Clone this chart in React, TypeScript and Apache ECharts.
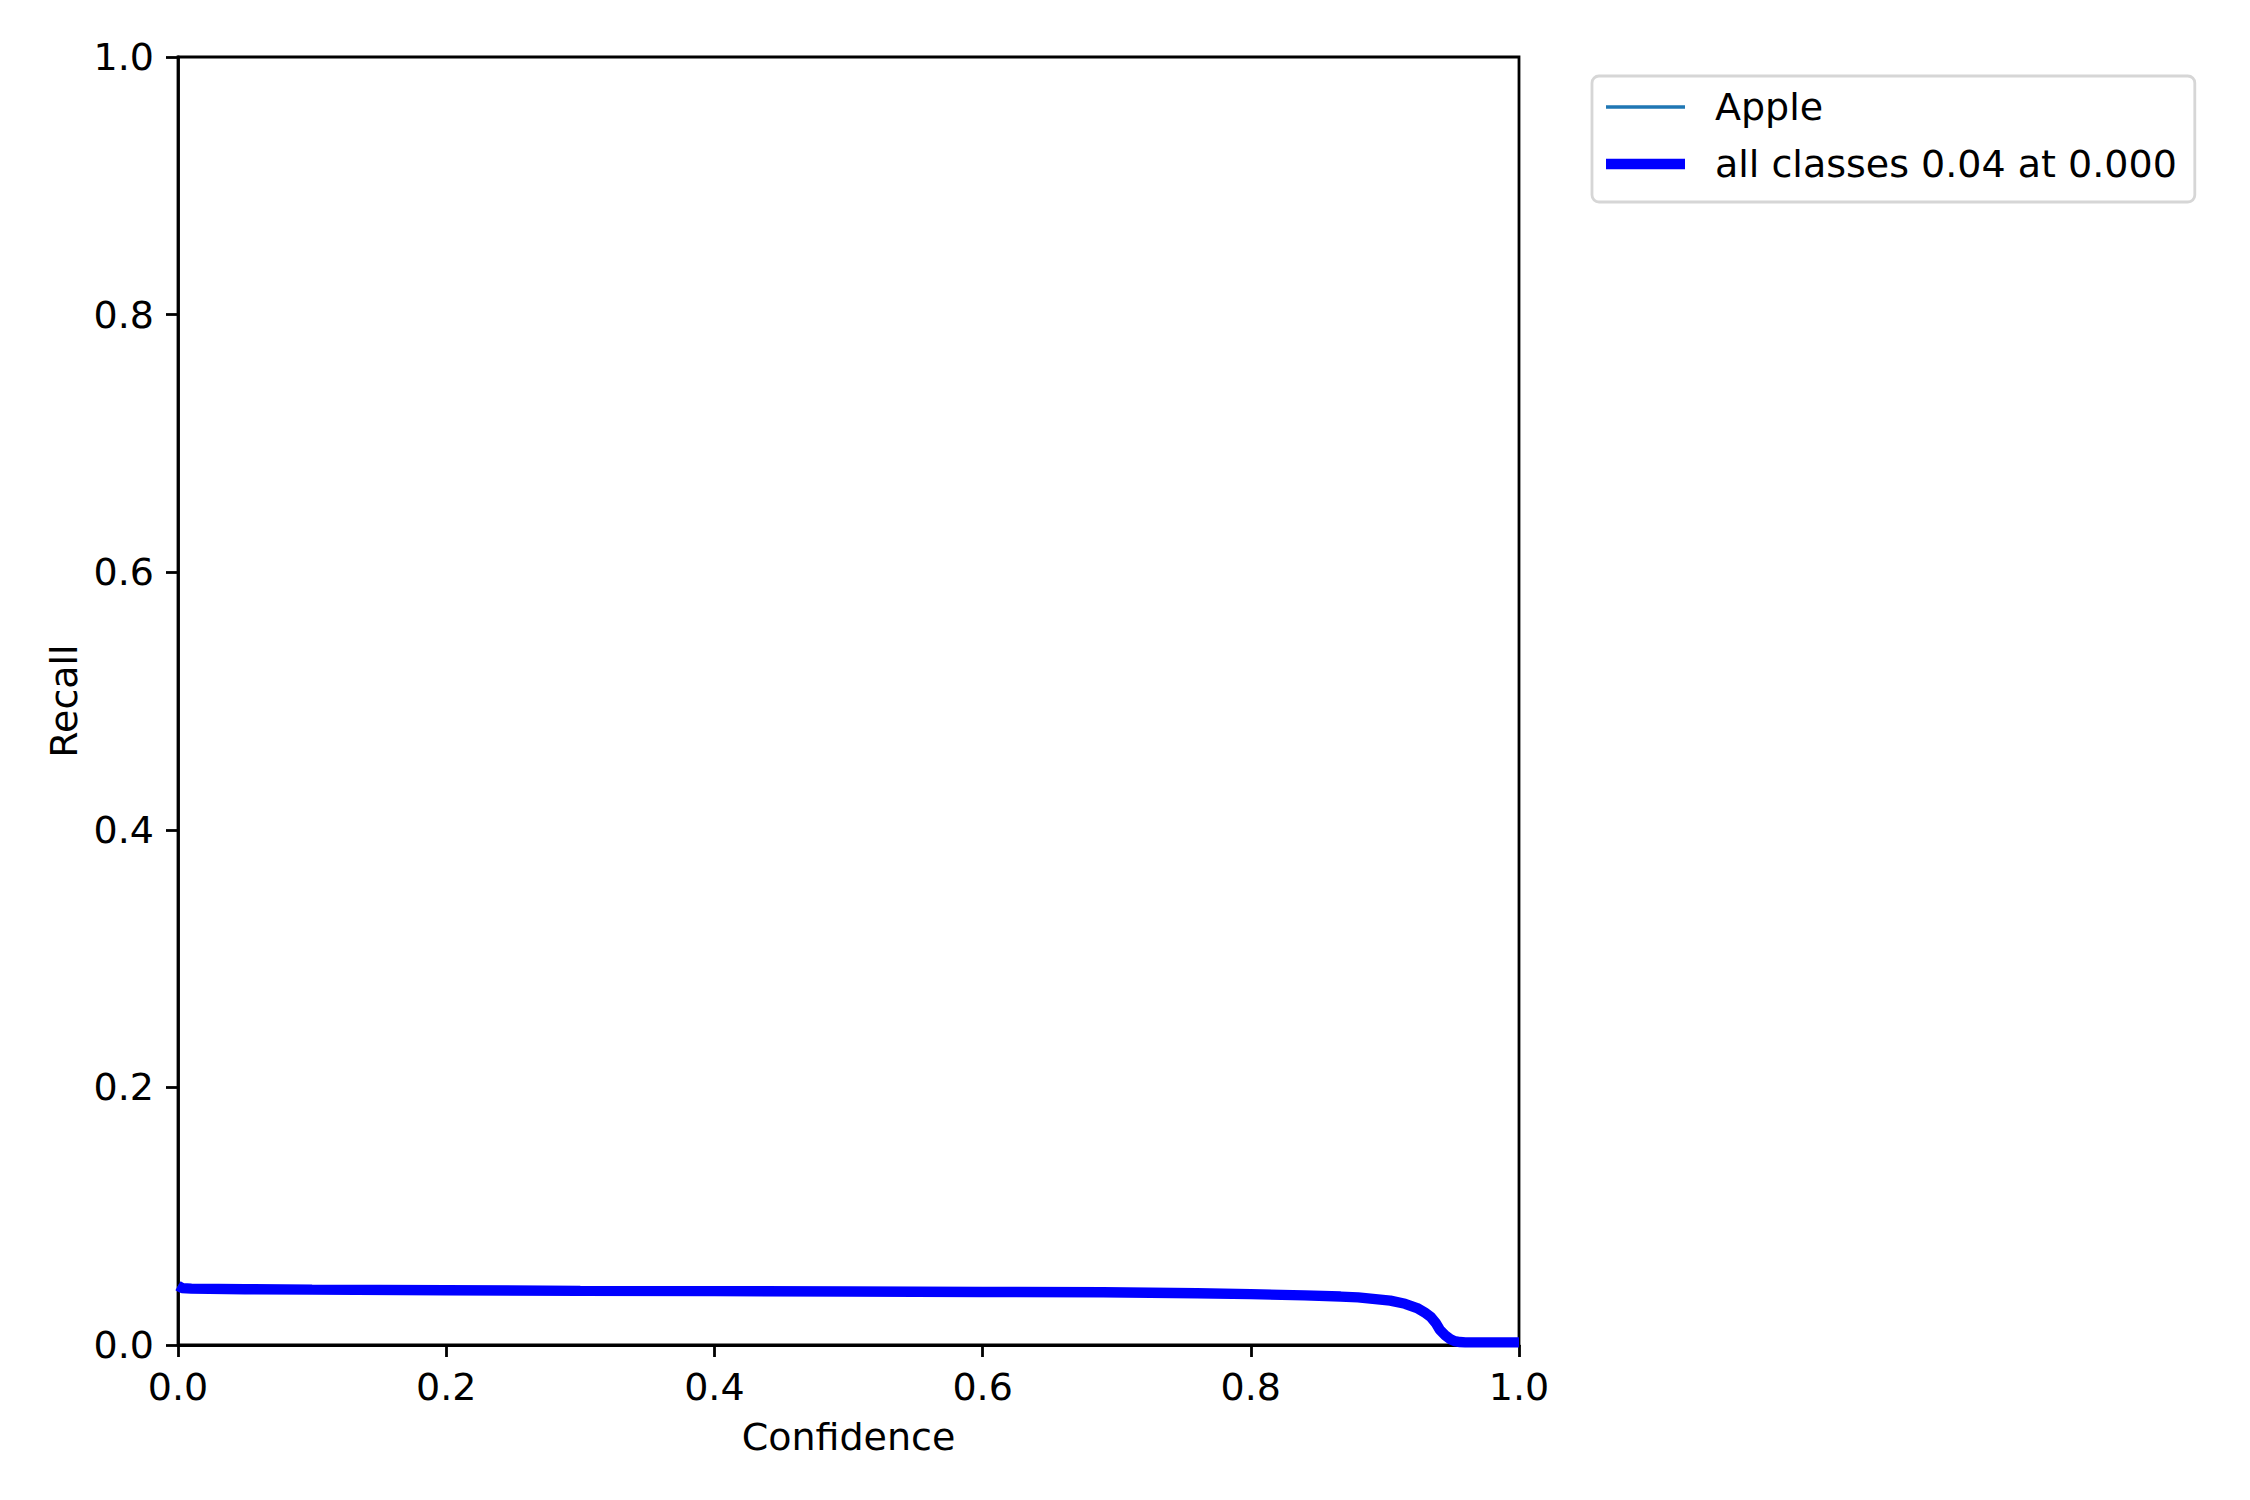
import React, { useEffect, useRef } from "react";
import * as echarts from "echarts";

const confidence = [0, 0.003, 0.01, 0.05, 0.1, 0.2, 0.3, 0.4, 0.5, 0.6, 0.69, 0.76, 0.8, 0.84, 0.867, 0.88, 0.904, 0.915, 0.924, 0.93, 0.934, 0.938, 0.941, 0.945, 0.9485, 0.952, 0.956, 0.96, 1.0];
const appleRecall = [0.046, 0.0442, 0.0438, 0.0433, 0.043, 0.0425, 0.042, 0.0418, 0.0415, 0.0412, 0.0409, 0.0402, 0.0395, 0.0385, 0.0376, 0.037, 0.0344, 0.032, 0.0287, 0.025, 0.022, 0.017, 0.0117, 0.0075, 0.0047, 0.003, 0.0023, 0.002, 0.002];
const allRecall = appleRecall.slice();
const seriesNames = ["Apple", "all classes 0.04 at 0.000"];
const tickValues = [0, 0.2, 0.4, 0.6, 0.8, 1.0];

const FONT = "DejaVu Sans";
const FS = 38;

// legend handle: a line segment inside a 104x20 box (corner specks fix the box size)
const handle = (w: number) => {
  const y0 = (10 - w / 2).toFixed(2);
  return `path://M0,0h0.01v0.01h-0.01zM0,${y0}h79v${w}h-79zM103.99,19.99h0.01v0.01h-0.01z`;
};

export default function App() {
  const ref = useRef<HTMLDivElement>(null);
  useEffect(() => {
    if (!ref.current) return;
    const chart = echarts.init(ref.current, undefined, { renderer: "svg" });
    const pairs = (ys: number[]) => confidence.map((x, i) => [x, ys[i]]);
    const axisCommon = {
      type: "value" as const,
      min: 0,
      max: 1,
      interval: 0.2,
      splitLine: { show: false },
      axisLine: { show: true, lineStyle: { color: "#000", width: 2.8 } },
      axisTick: { show: true, inside: false, length: 12, lineStyle: { color: "#000", width: 2.8 } },
      nameTextStyle: { fontFamily: FONT, fontSize: FS, color: "#000" },
    };
    chart.setOption({
      animation: false,
      backgroundColor: "#fff",
      textStyle: { fontFamily: FONT },
      grid: {
        left: 178,
        top: 57,
        width: 1341,
        height: 1288,
        show: true,
        borderColor: "#000",
        borderWidth: 2.8,
        backgroundColor: "transparent",
      },
      legend: {
        show: true,
        orient: "vertical",
        left: 1592,
        top: 76,
        itemWidth: 104,
        itemHeight: 20,
        itemGap: 13,
        padding: [9, 18, 16, 14],
        borderColor: "#d6d6d6",
        borderWidth: 2.8,
        borderRadius: 7,
        backgroundColor: "#fff",
        textStyle: { fontFamily: FONT, fontSize: FS, color: "#000", lineHeight: 44 },
        data: [
          { name: seriesNames[0], icon: handle(3.5), itemStyle: { color: "#1f77b4", borderWidth: 0 } },
          { name: seriesNames[1], icon: handle(10.4), itemStyle: { color: "#0000ff", borderWidth: 0 } },
        ],
      },
      xAxis: {
        ...axisCommon,
        name: "Confidence",
        nameLocation: "middle",
        nameGap: 73,
        axisLabel: {
          show: true,
          margin: 23,
          fontFamily: FONT,
          fontSize: FS,
          color: "#000",
          formatter: (v: number) => (tickValues.some((t) => Math.abs(t - v) < 1e-9) ? v.toFixed(1) : ""),
        },
      },
      yAxis: {
        ...axisCommon,
        name: "Recall",
        nameLocation: "middle",
        nameGap: 95,
        axisLabel: {
          show: true,
          margin: 24,
          fontFamily: FONT,
          fontSize: FS,
          color: "#000",
          formatter: (v: number) => v.toFixed(1),
        },
      },
      series: [
        {
          name: seriesNames[0],
          type: "line",
          data: pairs(appleRecall),
          symbol: "none",
          showSymbol: false,
          lineStyle: { color: "#1f77b4", width: 3.5 },
          itemStyle: { color: "#1f77b4" },
          z: 2,
        },
        {
          name: seriesNames[1],
          type: "line",
          data: pairs(allRecall),
          symbol: "none",
          showSymbol: false,
          lineStyle: { color: "#0000ff", width: 10.4 },
          itemStyle: { color: "#0000ff" },
          z: 3,
        },
      ],
    });
    return () => chart.dispose();
  }, []);
  return (
    <div
      ref={ref}
      style={{ position: "fixed", left: 0, top: 0, width: 2250, height: 1500, background: "#fff" }}
    />
  );
}
